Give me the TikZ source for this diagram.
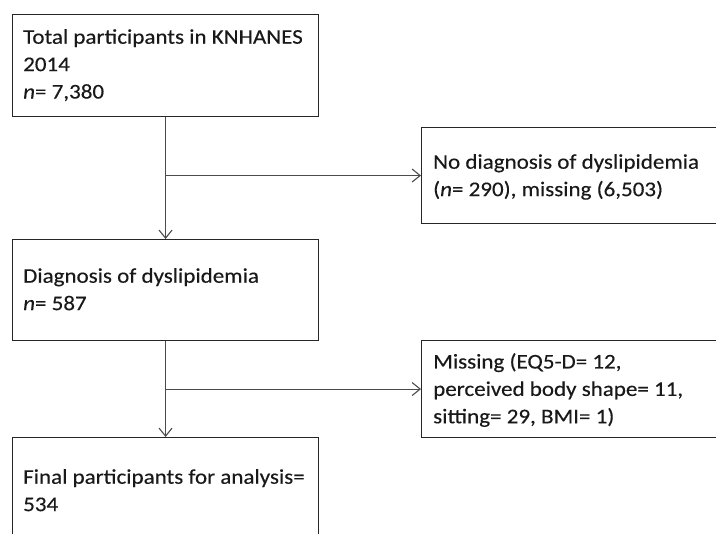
\documentclass[tikz,border=0pt]{standalone}
\usepackage{fontspec}
\setmainfont{Carlito}[FakeStretch=1.1,FakeBold=0.3]
\usetikzlibrary{arrows.meta}
\begin{document}
\begin{tikzpicture}[x=1bp,y=-1bp,
  box/.style={draw=black!85, line width=1.1bp, rectangle, inner sep=0pt, anchor=north west},
  txt/.style={inner sep=0pt, anchor=north west, align=left, font=\fontsize{21}{27.5}\selectfont, text=black!90},
  conn/.style={draw=black!70, line width=1.1bp},
  arr/.style={conn, -{Straight Barb[length=8bp,width=13bp,line width=1.1bp]}}]
\useasboundingbox (0,0) rectangle (716,534);
\clip (0,0) rectangle (716,534);
% boxes
\node[box, minimum width=306bp, minimum height=102bp] (b1) at (12,14) {};
\node[box, minimum width=306bp, minimum height=101bp] (b2) at (12,239) {};
\node[box, minimum width=306bp, minimum height=120bp] (b3) at (12,437) {};
\node[box, minimum width=320bp, minimum height=96bp] (r1) at (421,127) {};
\node[box, minimum width=320bp, minimum height=97bp] (r2) at (421,340) {};
% texts
\node[txt] (t1) at (23,29) {Total participants in KNHANES\\2014\\\textit{n}= 7,380};
\node[txt] (t2) at (23,268) {Diagnosis of dyslipidemia\\\textit{n}= 587};
\node[txt] (t3) at (23,469) {Final participants for analysis=\\534};
\node[txt] (tr1) at (433,154) {No diagnosis of dyslipidemia\\(\textit{n}= 290), missing (6,503)};
\node[txt] (tr2) at (433,353) {Missing (EQ5-D= 12,\\perceived body shape= 11,\\sitting= 29, BMI= 1)};
% connectors
\coordinate (j1) at (b1.south |- r1.west);
\coordinate (j2) at (b2.south |- r2.west);
\draw[arr] (b1.south) -- (b2.north);
\draw[arr] (j1) -- (r1.west);
\draw[arr] (b2.south) -- (b3.north);
\draw[arr] (j2) -- (r2.west);
\end{tikzpicture}
\end{document}
